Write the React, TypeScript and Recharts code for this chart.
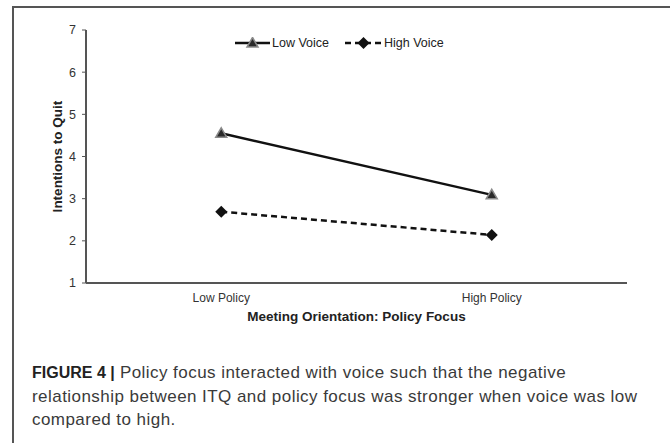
import { LineChart, Line, XAxis, YAxis, Legend } from 'recharts';

const categories = ['Low Policy', 'High Policy'];
const lowVoice = [4.55, 3.09];
const highVoice = [2.69, 2.14];
const yTicks = [1, 2, 3, 4, 5, 6, 7];

const data = categories.map((name, i) => ({ name, low: lowVoice[i], high: highVoice[i] }));

const FONT = '"Liberation Sans", Arial, sans-serif';

const Triangle = (props: any) => {
  const { cx, cy } = props;
  if (cx == null || cy == null) return null;
  return (
    <polygon
      points={`${cx},${cy - 5.5} ${cx + 5.5},${cy + 4} ${cx - 5.5},${cy + 4}`}
      fill="#2a2a2a"
      stroke="#8a8a8a"
      strokeWidth={1.5}
    />
  );
};

const Diamond = (props: any) => {
  const { cx, cy } = props;
  if (cx == null || cy == null) return null;
  return (
    <polygon
      points={`${cx},${cy - 6} ${cx + 6},${cy} ${cx},${cy + 6} ${cx - 6},${cy}`}
      fill="#111"
    />
  );
};

const LegendContent = () => (
  <div style={{ display: 'flex', alignItems: 'center', fontFamily: FONT, fontSize: 12.5, color: '#222' }}>
    <svg width={36} height={12}>
      <line x1={0} y1={6} x2={35} y2={6} stroke="#111" strokeWidth={2.5} />
      <Triangle cx={17.5} cy={6} />
    </svg>
    <span style={{ marginLeft: 1 }}>Low Voice</span>
    <svg width={38} height={12} style={{ marginLeft: 16 }}>
      <line x1={0} y1={6} x2={37} y2={6} stroke="#111" strokeWidth={2.5} strokeDasharray="6 4" />
      <Diamond cx={18.5} cy={6} />
    </svg>
    <span style={{ marginLeft: 1 }}>High Voice</span>
  </div>
);

export default function App() {
  return (
    <div style={{ position: 'absolute', left: 0, top: 0, width: 670, height: 443, overflow: 'hidden', background: '#fff' }}>
      <div
        style={{
          position: 'absolute',
          left: 12,
          top: 6,
          width: 700,
          height: 500,
          borderTop: '2px solid #555',
          borderLeft: '2px solid #555',
        }}
      />
      <div style={{ position: 'absolute', left: 0, top: 0 }}>
        <LineChart width={670} height={330} data={data} margin={{ top: 30, right: 43, bottom: 7, left: 0 }}>
          <XAxis
            dataKey="name"
            scale="band"
            height={40}
            tickLine={false}
            tickMargin={4}
            axisLine={{ stroke: '#555', strokeWidth: 2 }}
            tick={{ fill: '#333', fontSize: 12, fontFamily: FONT }}
            label={{
              value: 'Meeting Orientation: Policy Focus',
              position: 'insideBottom',
              offset: 2,
              style: { fontFamily: FONT, fontSize: 13.5, fontWeight: 'bold', fill: '#222' },
            }}
          />
          <YAxis
            width={86}
            domain={[1, 7]}
            ticks={yTicks}
            interval={0}
            tickSize={4}
            tickMargin={6}
            axisLine={{ stroke: '#555', strokeWidth: 2 }}
            tickLine={{ stroke: '#555' }}
            tick={{ fill: '#333', fontSize: 12.5, fontFamily: FONT }}
            label={{
              value: 'Intentions to Quit',
              angle: -90,
              position: 'center',
              dx: 14,
              style: { fontFamily: FONT, fontSize: 13.5, fontWeight: 'bold', fill: '#222', textAnchor: 'middle' },
            }}
          />
          <Legend
            verticalAlign="middle"
            content={<LegendContent />}
            wrapperStyle={{ top: 36, left: 235, width: 'auto' }}
          />
          <Line
            dataKey="low"
            name="Low Voice"
            stroke="#111"
            strokeWidth={2.5}
            dot={<Triangle />}
            activeDot={false}
            isAnimationActive={false}
          />
          <Line
            dataKey="high"
            name="High Voice"
            stroke="#111"
            strokeWidth={2.5}
            strokeDasharray="6 4"
            dot={<Diamond />}
            activeDot={false}
            isAnimationActive={false}
          />
        </LineChart>
      </div>
      <div
        style={{
          position: 'absolute',
          left: 32,
          top: 361,
          width: 635,
          fontFamily: FONT,
          fontSize: 17,
          letterSpacing: 0.45,
          lineHeight: '23.5px',
          color: '#3a3a3a',
          whiteSpace: 'nowrap',
        }}
      >
        <b style={{ color: '#222', fontSize: 16, letterSpacing: 0 }}>FIGURE 4 |</b> Policy focus interacted with voice such that the negative
        <br />
        relationship between ITQ and policy focus was stronger when voice was low
        <br />
        compared to high.
      </div>
    </div>
  );
}
